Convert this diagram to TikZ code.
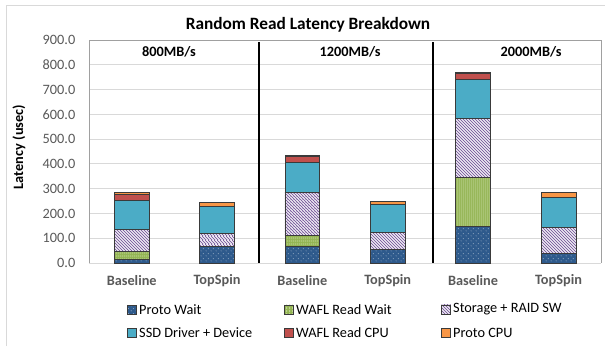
\documentclass[tikz,border=0pt]{standalone}
\usepackage{fontspec}
\setmainfont{Carlito}
\usetikzlibrary{patterns.meta}
\definecolor{pwc}{HTML}{2E5A8C}
\definecolor{wwc}{HTML}{93B452}
\definecolor{wwl}{HTML}{D4E3B5}
\definecolor{stc}{HTML}{8064A2}
\definecolor{ssc}{HTML}{4BACC6}
\definecolor{wcc}{HTML}{C0504D}
\definecolor{pcc}{HTML}{F79646}
\definecolor{segb}{HTML}{3A3A3A}
\definecolor{gridc}{HTML}{D9D9D9}
\definecolor{framec}{HTML}{A0A0A0}
\definecolor{txtg}{HTML}{595959}
\tikzdeclarepattern{
  name=mydots, type=uncolored,
  bounding box={(0pt,0pt) and (5pt,5pt)},
  tile size={(5pt,5pt)},
  code={\fill (1.25pt,1.25pt) circle (0.45pt); \fill (3.75pt,3.75pt) circle (0.45pt);}
}
\tikzdeclarepattern{
  name=mystripes, type=uncolored,
  bounding box={(0pt,0pt) and (3.4pt,3.4pt)},
  tile size={(3.4pt,3.4pt)},
  code={\draw[line width=1pt] (-1pt,4.4pt)--(4.4pt,-1pt);
        \draw[line width=1pt] (-1pt,1pt)--(1pt,-1pt);
        \draw[line width=1pt] (2.4pt,4.4pt)--(4.4pt,2.4pt);}
}
\tikzdeclarepattern{
  name=mygrid, type=uncolored,
  bounding box={(0pt,0pt) and (2.4pt,2.4pt)},
  tile size={(2.4pt,2.4pt)},
  code={\fill (0.5pt,0pt) rectangle (0.9pt,2.4pt); \fill (1.4pt,1.0pt) rectangle (2.0pt,1.4pt);}
}
\newcommand\seg[4]{\path[#4] ({#1-17.35},{263-#2*0.2478}) rectangle ({#1+17.35},{263-#3*0.2478});}
\begin{document}
\begin{tikzpicture}[x=1pt,y=-1pt,
  every node/.style={font=\fontsize{14.3}{17}\selectfont, inner sep=0pt},
  pwseg/.style={preaction={fill=pwc}, pattern=mydots, pattern color=white, draw=segb, line width=0.6pt},
  wwseg/.style={preaction={fill=wwc}, pattern=mygrid, pattern color=wwl, draw=segb, line width=0.6pt},
  stseg/.style={preaction={fill=white}, pattern=mystripes, pattern color=stc, draw=segb, line width=0.6pt},
  ssseg/.style={fill=ssc, draw=segb, line width=0.6pt},
  wcseg/.style={fill=wcc, draw=segb, line width=0.6pt},
  pcseg/.style={fill=pcc, draw=segb, line width=0.6pt},
  ticklab/.style={text=txtg, anchor=east},
  catlab/.style={text=txtg, font=\fontsize{14.3}{17}\selectfont\bfseries},
  grplab/.style={font=\fontsize{14.3}{17}\selectfont\bfseries},
  legsq/.style={minimum width=9pt, minimum height=9pt, inner sep=0pt},
  legtxt/.style={anchor=west}
]
\useasboundingbox (0,0) rectangle (605,346);
% outer frame
\draw[gridc, line width=0.8pt] (6.5,346) -- (6.5,5) -- (605,5);
% title
\node[font=\fontsize{17.3}{20}\selectfont\bfseries] (title) at (308,25) {Random Read Latency Breakdown};
% grid
\foreach \v in {1,...,8} \draw[gridc, line width=0.8pt] (89,{263-\v*24.78}) -- (601,{263-\v*24.78});
\draw[gridc, line width=0.8pt] (89,263) -- (601,263);
\draw[framec, line width=0.8pt] (89,263) -- (89,40) -- (601,40) -- (601,263);
% ticks
\foreach \v/\t in {0/0.0,1/100.0,2/200.0,3/300.0,4/400.0,5/500.0,6/600.0,7/700.0,8/800.0,9/900.0}
  \node[ticklab] (tk\v) at (75.5,{263-\v*24.78}) {\t};
\node[rotate=90, font=\fontsize{14.3}{17}\selectfont\bfseries] (ylab) at (19,147) {Latency (usec)};
% group 1 baseline
\seg{131.7}{0}{15}{pwseg}
\seg{131.7}{15}{47}{wwseg}
\seg{131.7}{47}{138}{stseg}
\seg{131.7}{138}{253}{ssseg}
\seg{131.7}{253}{279}{wcseg}
\seg{131.7}{279}{284}{pcseg}
% group 1 topspin
\seg{217}{0}{67}{pwseg}
\seg{217}{67}{120}{stseg}
\seg{217}{120}{227}{ssseg}
\seg{217}{227}{245}{pcseg}
% group 2 baseline
\seg{302.3}{0}{66}{pwseg}
\seg{302.3}{66}{112}{wwseg}
\seg{302.3}{112}{285}{stseg}
\seg{302.3}{285}{406}{ssseg}
\seg{302.3}{406}{431}{wcseg}
\seg{302.3}{431}{435}{pcseg}
% group 2 topspin
\seg{387.7}{0}{55}{pwseg}
\seg{387.7}{55}{124}{stseg}
\seg{387.7}{124}{235}{ssseg}
\seg{387.7}{235}{249}{pcseg}
% group 3 baseline
\seg{473}{0}{149}{pwseg}
\seg{473}{149}{344}{wwseg}
\seg{473}{344}{584}{stseg}
\seg{473}{584}{741}{ssseg}
\seg{473}{741}{765}{wcseg}
\seg{473}{765}{771}{pcseg}
% group 3 topspin
\seg{558.5}{0}{40}{pwseg}
\seg{558.5}{40}{144}{stseg}
\seg{558.5}{144}{265}{ssseg}
\seg{558.5}{265}{284}{pcseg}
% separators
\draw[black, line width=2pt] (259.3,42) -- (259.3,263);
\draw[black, line width=2pt] (432.7,42) -- (432.7,263);
% group labels
\node[grplab] (g1) at (169,52) {800MB/s};
\node[grplab] (g2) at (350,52) {1200MB/s};
\node[grplab] (g3) at (531,52) {2000MB/s};
% category labels
\node[catlab] (c1) at (131.7,281) {Baseline};
\node[catlab] (c2) at (217,281) {TopSpin};
\node[catlab] (c3) at (302.3,281) {Baseline};
\node[catlab] (c4) at (387.7,281) {TopSpin};
\node[catlab] (c5) at (473,281) {Baseline};
\node[catlab] (c6) at (558.5,281) {TopSpin};
% legend
\node[legsq, pwseg] (l1) at (131.5,309.3) {};
\node[legtxt] (lt1) at (139,309.3) {Proto Wait};
\node[legsq, wwseg] (l2) at (288.5,309.3) {};
\node[legtxt] (lt2) at (296,309.3) {WAFL Read Wait};
\node[legsq, stseg] (l3) at (446,309.3) {};
\node[legtxt] (lt3) at (453,309.3) {Storage + RAID SW};
\node[legsq, ssseg] (l4) at (131.5,332.7) {};
\node[legtxt] (lt4) at (139,332.7) {SSD Driver + Device};
\node[legsq, wcseg] (l5) at (288.5,332.7) {};
\node[legtxt] (lt5) at (296,332.7) {WAFL Read CPU};
\node[legsq, pcseg] (l6) at (446,332.7) {};
\node[legtxt] (lt6) at (453,332.7) {Proto CPU};
\end{tikzpicture}
\end{document}
